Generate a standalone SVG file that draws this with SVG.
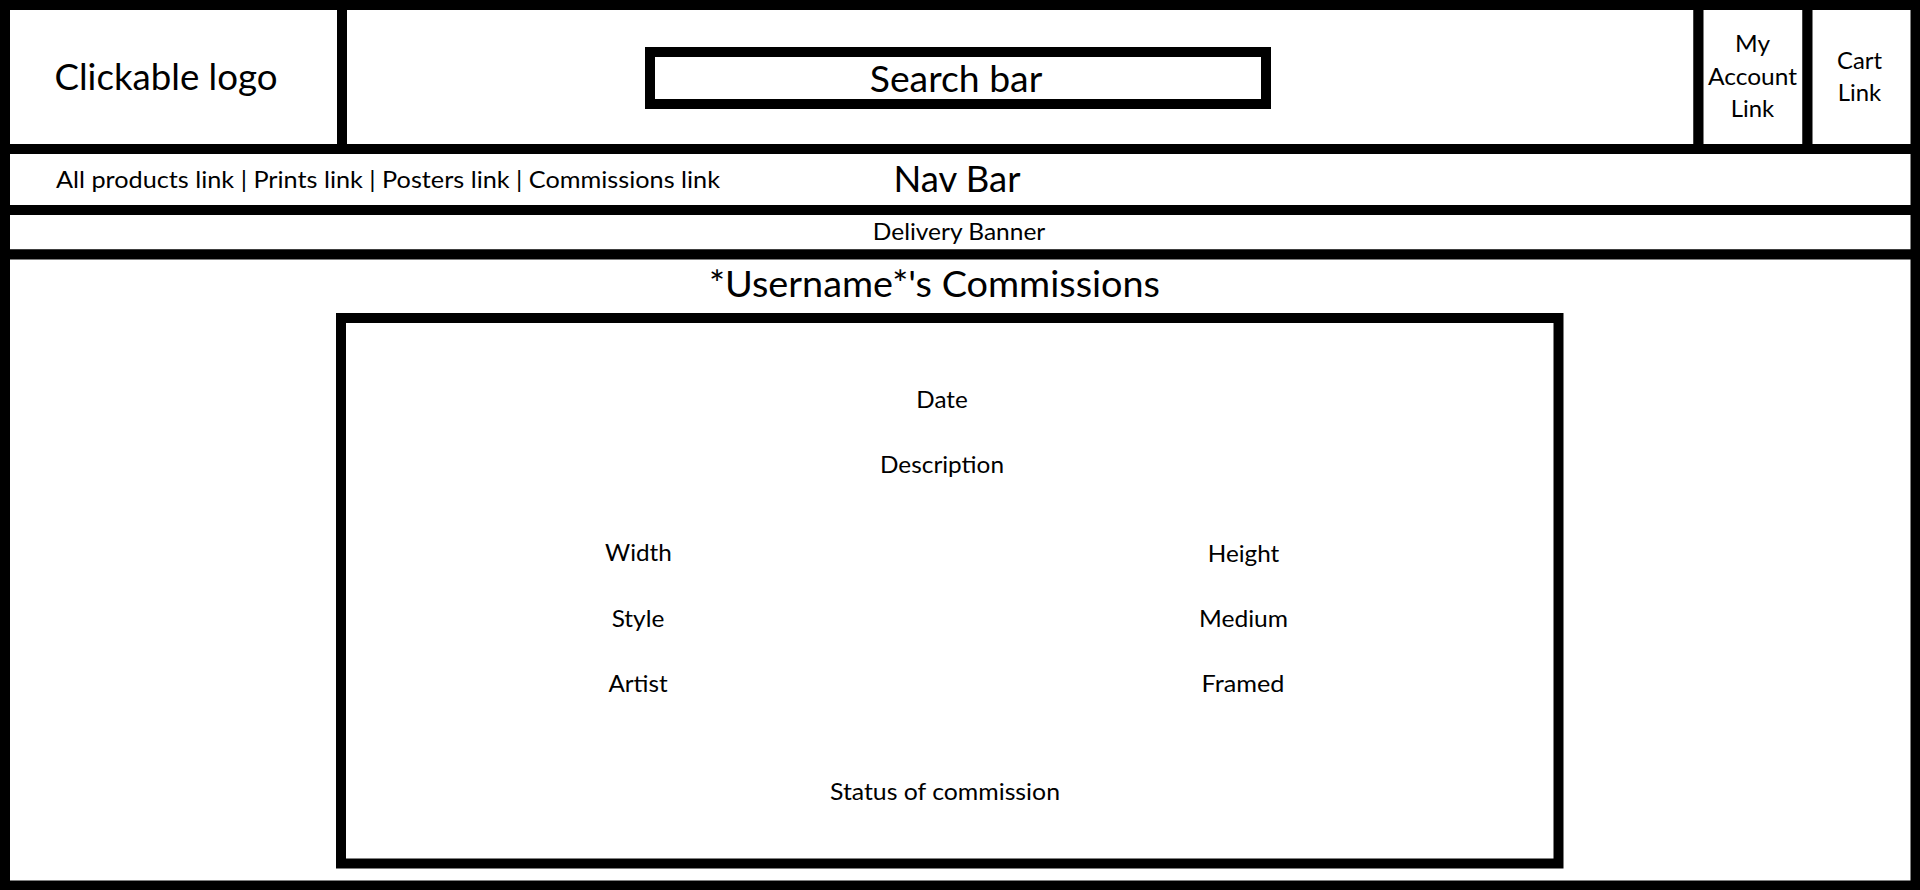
<svg xmlns="http://www.w3.org/2000/svg" width="1920" height="890" viewBox="0 0 1920 890">
<style>
.box{fill:#fff;stroke:#000;stroke-width:10}
.t{font-family:Lato,"Liberation Sans",sans-serif;fill:#000;text-anchor:middle}
.big{font-size:36px}
.sm{font-size:24px}
</style>
<rect x="0" y="0" width="1920" height="890" fill="#fff"/>
<g id="logo">
<rect class="box" x="5" y="5" width="337" height="144"/>
<text class="t big" x="166" y="89.5" textLength="223" lengthAdjust="spacingAndGlyphs">Clickable logo</text>
</g>
<g id="header">
<rect class="box" x="342" y="5" width="1356.5" height="144"/>
</g>
<g id="search">
<rect class="box" x="650" y="52" width="616" height="52"/>
<text class="t big" x="956" y="92" textLength="172.5" lengthAdjust="spacingAndGlyphs">Search bar</text>
</g>
<g id="account">
<rect class="box" x="1698.5" y="5" width="109" height="144"/>
<text class="t sm" x="1752.5" y="52" textLength="35" lengthAdjust="spacingAndGlyphs">My</text>
<text class="t sm" x="1752.5" y="84.5" textLength="89" lengthAdjust="spacingAndGlyphs">Account</text>
<text class="t sm" x="1752.5" y="117" textLength="43.4" lengthAdjust="spacingAndGlyphs">Link</text>
</g>
<g id="cart">
<rect class="box" x="1807.5" y="5" width="108" height="144"/>
<text class="t sm" x="1859.5" y="68.5" textLength="45" lengthAdjust="spacingAndGlyphs">Cart</text>
<text class="t sm" x="1859.5" y="101" textLength="43.4" lengthAdjust="spacingAndGlyphs">Link</text>
</g>
<g id="navbar">
<rect class="box" x="5" y="149" width="1910.5" height="61"/>
<text class="t sm" x="56" y="188" style="text-anchor:start" textLength="664" lengthAdjust="spacingAndGlyphs">All products link | Prints link | Posters link | Commissions link</text>
<text class="t big" x="957" y="191.5" textLength="127" lengthAdjust="spacingAndGlyphs">Nav Bar</text>
</g>
<g id="delivery">
<rect class="box" x="5" y="210" width="1910.5" height="44.5"/>
<text class="t sm" x="959" y="239.5" textLength="172.5" lengthAdjust="spacingAndGlyphs">Delivery Banner</text>
</g>
<g id="main">
<rect class="box" x="5" y="254.5" width="1910.5" height="631"/>
<text class="t big" x="934.5" y="297" textLength="451" lengthAdjust="spacingAndGlyphs">*Username*'s Commissions</text>
</g>
<g id="commission">
<rect class="box" x="341" y="318" width="1217.5" height="545.5"/>
<text class="t sm" x="942" y="407.5" textLength="51.4" lengthAdjust="spacingAndGlyphs">Date</text>
<text class="t sm" x="942" y="472.5" textLength="124" lengthAdjust="spacingAndGlyphs">Description</text>
<text class="t sm" x="638.5" y="561" textLength="66.8" lengthAdjust="spacingAndGlyphs">Width</text>
<text class="t sm" x="1243.5" y="561.5" textLength="71.5" lengthAdjust="spacingAndGlyphs">Height</text>
<text class="t sm" x="638" y="626.5" textLength="52.6" lengthAdjust="spacingAndGlyphs">Style</text>
<text class="t sm" x="1243.5" y="627" textLength="89" lengthAdjust="spacingAndGlyphs">Medium</text>
<text class="t sm" x="638" y="691.5" textLength="59.2" lengthAdjust="spacingAndGlyphs">Artist</text>
<text class="t sm" x="1243" y="692" textLength="82.9" lengthAdjust="spacingAndGlyphs">Framed</text>
<text class="t sm" x="945" y="799.5" textLength="230" lengthAdjust="spacingAndGlyphs">Status of commission</text>
</g>
<g id="connectors"/>
</svg>
